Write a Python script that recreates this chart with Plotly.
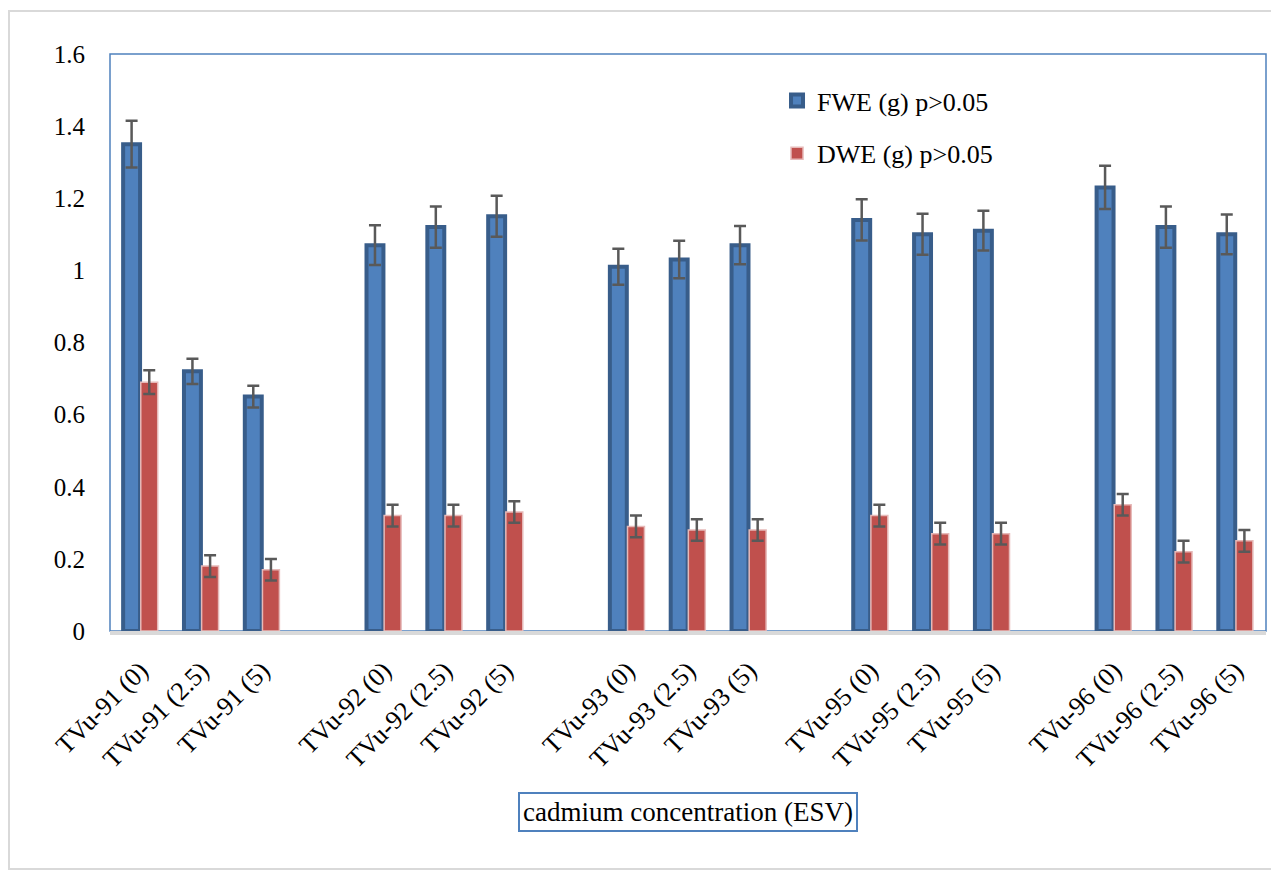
import plotly.graph_objects as go

categories = ["TVu-91 (0)", "TVu-91 (2.5)", "TVu-91 (5)", " ",
              "TVu-92 (0)", "TVu-92 (2.5)", "TVu-92 (5)", "  ",
              "TVu-93 (0)", "TVu-93 (2.5)", "TVu-93 (5)", "   ",
              "TVu-95 (0)", "TVu-95 (2.5)", "TVu-95 (5)", "    ",
              "TVu-96 (0)", "TVu-96 (2.5)", "TVu-96 (5)"]

fwe = [1.35, 0.72, 0.65, None,
       1.07, 1.12, 1.15, None,
       1.01, 1.03, 1.07, None,
       1.14, 1.10, 1.11, None,
       1.23, 1.12, 1.10]
fwe_err = [0.065, 0.035, 0.03, None,
           0.055, 0.057, 0.057, None,
           0.05, 0.052, 0.053, None,
           0.057, 0.057, 0.055, None,
           0.06, 0.057, 0.055]

dwe = [0.69, 0.18, 0.17, None,
       0.32, 0.32, 0.33, None,
       0.29, 0.28, 0.28, None,
       0.32, 0.27, 0.27, None,
       0.35, 0.22, 0.25]
dwe_err = [0.033, 0.03, 0.03, None,
           0.03, 0.03, 0.03, None,
           0.03, 0.03, 0.03, None,
           0.03, 0.03, 0.03, None,
           0.03, 0.03, 0.03]

y_ticks = [0, 0.2, 0.4, 0.6, 0.8, 1.0, 1.2, 1.4, 1.6]
y_tick_text = ["0", "0.2", "0.4", "0.6", "0.8", "1", "1.2", "1.4", "1.6"]

FONT = "Liberation Serif"

W, H = 1271, 866
L, R, T, B = 102, 13, 46, 243
PW, PH = W - L - R, H - T - B

fig = go.Figure()
fig.add_trace(go.Bar(
    x=categories, y=fwe, name="FWE (g) p>0.05",
    marker=dict(color="#4F81BD", line=dict(color="#385D8A", width=4)),
    error_y=dict(type="data", array=fwe_err, visible=True, color="#595959", thickness=2.5, width=6),
    legendgroup="a",
))
fig.add_trace(go.Bar(
    x=categories, y=dwe, name="DWE (g) p>0.05",
    marker=dict(color="#C0504D", line=dict(color="#E6B9B8", width=1.5)),
    error_y=dict(type="data", array=dwe_err, visible=True, color="#595959", thickness=2.5, width=6),
    legendgroup="b",
))

fig.update_layout(
    width=W, height=H,
    margin=dict(l=L, r=R, t=T, b=B),
    paper_bgcolor="white", plot_bgcolor="white",
    font=dict(family=FONT, size=26, color="black"),
    barmode="group", bargap=0.42, bargroupgap=0.04,
    showlegend=True,
    legend=dict(x=0.577, y=0.96, xanchor="left", yanchor="top",
                font=dict(family=FONT, size=26), tracegroupgap=16,
                bgcolor="rgba(0,0,0,0)"),
    xaxis=dict(type="category", categoryorder="array", categoryarray=categories,
               tickangle=-45, showline=True, linecolor="#D9D9D9", linewidth=4,
               ticks="", showgrid=False, tickfont=dict(family=FONT, size=26),
               ticklabelstandoff=10),
    yaxis=dict(range=[0, 1.6], tickvals=y_ticks, ticktext=y_tick_text,
               showgrid=False, zeroline=False, showline=False, ticks="",
               tickfont=dict(family=FONT, size=25), ticklabelstandoff=24),
    shapes=[
        dict(type="rect", xref="paper", yref="paper", x0=0, x1=1, y0=0, y1=1,
             line=dict(color="#4F81BD", width=1.5), layer="below"),
        dict(type="rect", xref="paper", yref="paper",
             x0=(1 - L) / PW, x1=(1266 - L) / PW,
             y0=(H - B - 861) / PH, y1=(H - B - 3) / PH,
             line=dict(color="#D9D9D9", width=2), layer="below"),
    ],
    annotations=[
        dict(text="cadmium concentration (ESV)", xref="paper", yref="paper",
             x=(680 - L) / PW, y=(H - B - 804) / PH, showarrow=False,
             xanchor="center", yanchor="middle",
             font=dict(family=FONT, size=27, color="black"),
             bordercolor="#4F81BD", borderwidth=2, borderpad=3, bgcolor="white"),
    ],
)

fig.write_html("out.html")
